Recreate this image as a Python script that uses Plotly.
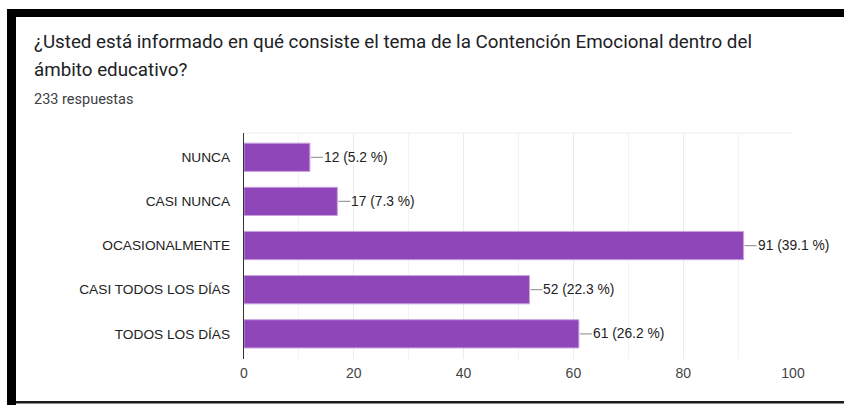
import plotly.graph_objects as go

categories = ["NUNCA", "CASI NUNCA", "OCASIONALMENTE", "CASI TODOS LOS DÍAS", "TODOS LOS DÍAS"]
counts = [12, 17, 91, 52, 61]
percents = ["5.2", "7.3", "39.1", "22.3", "26.2"]
x_ticks = [0, 20, 40, 60, 80, 100]

title_line1 = "¿Usted está informado en qué consiste el tema de la Contención Emocional dentro del"
title_line2 = "ámbito educativo?"
subtitle_text = "233 respuestas"

W, H = 844, 405
def px(x):
    return x / W
def py(y):
    return 1 - y / H

BAR = "#8E46B9"
fig = go.Figure()
fig.add_trace(go.Bar(
    x=counts, y=categories, orientation="h",
    marker=dict(color=BAR, line=dict(color="#C8A2DE", width=1)),
    width=0.64, hoverinfo="skip",
))

for c, v, p in zip(categories, counts, percents):
    fig.add_annotation(
        x=v, y=c, xref="x", yref="y",
        text=f"{v} ({p} %)", showarrow=True, arrowhead=0, arrowwidth=1.2,
        arrowcolor="#9e9e9e", ax=13, ay=0, xanchor="left", yanchor="middle",
        standoff=1, startstandoff=0, borderpad=0,
        font=dict(family="Liberation Sans, Arial", size=13.8, color="#222222"),
    )

# title & subtitle
fig.add_annotation(x=px(32), y=py(42), xref="paper", yref="paper", text=title_line1,
                   showarrow=False, xanchor="left", yanchor="middle", align="left",
                   font=dict(family="Roboto", size=18.8, color="#202124"))
fig.add_annotation(x=px(32), y=py(70), xref="paper", yref="paper", text=title_line2,
                   showarrow=False, xanchor="left", yanchor="middle", align="left",
                   font=dict(family="Roboto", size=18.8, color="#202124"))
fig.add_annotation(x=px(32), y=py(99), xref="paper", yref="paper", text=subtitle_text,
                   showarrow=False, xanchor="left", yanchor="middle", align="left",
                   font=dict(family="Roboto", size=14.5, color="#3c4043"))

# black frame
shapes = [
    dict(type="rect", xref="paper", yref="paper", x0=px(7), x1=1.01, y0=py(17), y1=py(9),
         fillcolor="black", line=dict(width=0), layer="above"),
    dict(type="rect", xref="paper", yref="paper", x0=px(7), x1=px(16), y0=py(406), y1=py(9),
         fillcolor="black", line=dict(width=0), layer="above"),
    dict(type="rect", xref="paper", yref="paper", x0=px(16), x1=1.01, y0=py(403.5), y1=py(401),
         fillcolor="#1a1a1a", line=dict(width=0), layer="above"),
    dict(type="line", xref="paper", yref="paper", x0=px(244), x1=px(793), y0=py(133), y1=py(133),
         line=dict(color="#eeeeee", width=1)),
]

# width follows the page width (autosize); positions are given as fractions of it
fig.update_layout(
    height=H, autosize=True, margin=dict(l=0, r=0, t=0, b=0, autoexpand=False),
    paper_bgcolor="white", plot_bgcolor="white", showlegend=False,
    shapes=shapes,
    xaxis=dict(domain=[px(244), px(793)], range=[0, 100], tickvals=x_ticks,
               showgrid=True, gridcolor="#ebebeb", gridwidth=1,
               minor=dict(dtick=10, showgrid=True, gridcolor="#f3f3f3"),
               zeroline=False, showline=False, ticks="", ticklen=0,
               ticklabelstandoff=4,
               tickfont=dict(family="Liberation Sans, Arial", size=14, color="#444444"),
               fixedrange=True),
    yaxis=dict(domain=[py(359), py(133)], categoryorder="array", categoryarray=categories,
               range=[4.57, -0.55], showgrid=False, zeroline=False,
               showline=True, linecolor="#333333", linewidth=1.3, ticks="",
               ticklabelstandoff=10,
               tickfont=dict(family="Liberation Sans, Arial", size=13.7, color="#222222"),
               fixedrange=True),
    font=dict(family="Liberation Sans, Arial"),
)

post = (
    "document.documentElement.style.margin='0';"
    "document.body.style.margin='0';"
    "document.documentElement.style.overflow='hidden';"
    "document.body.style.overflow='hidden';"
    "var gd=document.getElementById('{plot_id}');"
    "Plotly.Plots.resize(gd);"
)

fig.write_html("out.html", config={"displayModeBar": False, "responsive": True},
               post_script=post)
